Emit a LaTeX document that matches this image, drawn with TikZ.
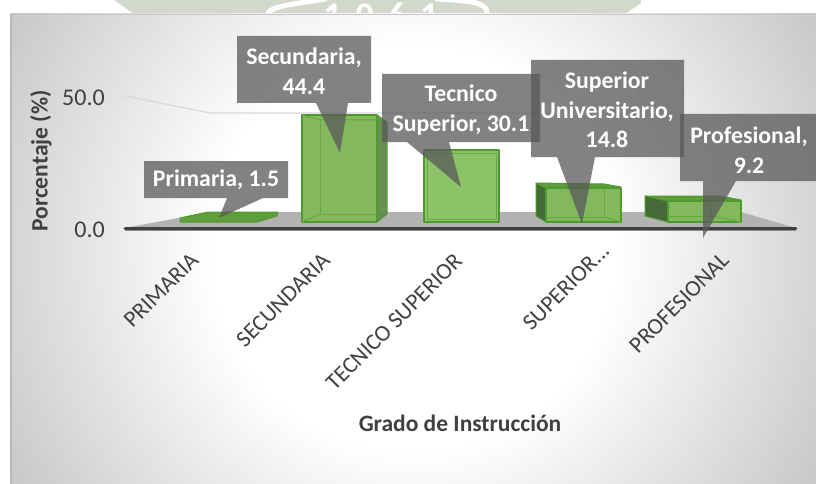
\documentclass[tikz,border=0pt]{standalone}
\usepackage{fontspec}
\setmainfont{Carlito}
\pgfdeclareradialshading{panelshade}{\pgfpoint{0bp}{0bp}}{color(0bp)=(white);color(10.5bp)=(white);color(24.5bp)=(black!22);color(50bp)=(black!22)}
\definecolor{axisdark}{HTML}{404040}
\definecolor{labelgrey}{HTML}{404040}
\definecolor{wm}{HTML}{D2D9CC}
\definecolor{barfront}{HTML}{84B85F}
\definecolor{barbright}{HTML}{8CC268}
\definecolor{baredge}{HTML}{4F9A2E}
\definecolor{bartop}{HTML}{5E9C3C}
\definecolor{barside}{HTML}{5F8B49}
\definecolor{bardark}{HTML}{456A38}
\tikzset{
  x=1pt,y=-1pt,
  calloutshape/.style={fill=black!65,fill opacity=.75,draw=none},
  callouttext/.style={text=white,font=\fontsize{23.8}{29.5}\selectfont\bfseries,align=center,inner sep=0pt},
  catlabel/.style={text=labelgrey,font=\fontsize{23}{25}\selectfont,rotate=45,inner sep=0pt},
  ticklabel/.style={text=labelgrey,font=\fontsize{24}{26}\selectfont,anchor=east,inner sep=0pt},
  axistitle/.style={text=labelgrey,font=\fontsize{23.5}{26}\selectfont\bfseries,inner sep=0pt},
  front/.style={fill=barfront,draw=baredge,line width=1.4pt,line join=round},
  topface/.style={fill=bartop,draw=baredge,line width=1pt,line join=round},
  sideface/.style={fill=barside,draw=baredge,line width=1pt,line join=round},
  darkface/.style={fill=bardark,draw=baredge,line width=1pt,line join=round},
  innerline/.style={draw=baredge!55!barfront,line width=1pt},
}
\begin{document}
\begin{tikzpicture}
\useasboundingbox (0,0) rectangle (816,484);
\fill[white] (0,0) rectangle (816,484);
% watermark
\begin{scope}
\clip (0,0) rectangle (816,14);
\fill[wm] (114,0) -- (134,14) -- (625,14) -- (641,3) -- (641,0) -- cycle;
\draw[white,line width=5pt,line cap=round] (268,13) .. controls (272,6) and (295,4) .. (325,-1);
\draw[white,line width=5pt,line cap=round] (437,-1) .. controls (470,1) and (487,2) .. (487,13);
\node[text=white,font=\fontsize{36}{38}\selectfont\bfseries,anchor=center,inner sep=0pt] (wmyear) at (381,15) {1\hspace{14pt}0\hspace{14pt}6\hspace{14pt}1};
\end{scope}
% panel
\begin{scope}
\clip (10,14) rectangle (816,484);
\shade[shading=panelshade] (-67,-232) rectangle (893,728);
\end{scope}
\draw[black!22,line width=.8pt] (10,14.5) -- (816,14.5);
\fill[black!28] (10,14) rectangle (11.5,484);
% wall and floor
\draw[black!15,line width=1.2pt] (125,96) -- (210,113) -- (540,113);
\fill[black!30] (125,228) -- (210,212) -- (741,212) -- (796,228) -- cycle;
\draw[black!45,line width=1pt] (125,230) -- (796,230);
\draw[axisdark,line width=2.6pt,line cap=round] (125,228.5) -- (796,228.5);
% Primaria bar
\fill[topface] (180,218) -- (208,212) -- (278,212) -- (277,216) -- (257,222) -- (180,222) -- cycle;
\draw[innerline] (180,218) -- (257,218);
% Secundaria bar
\draw[front] (302,115) rectangle (377,222);
\draw[sideface,fill opacity=.95] (377,115) -- (387,122) -- (387,214) -- (377,222) -- cycle;
\draw[innerline] (302,115) -- (320,120) -- (377,120);
\draw[innerline] (320,120) -- (320,214);
\draw[innerline] (320,214) -- (302,222);
\draw[innerline] (320,214) -- (377,214);
% Tecnico bar
\draw[front,fill=barbright] (424,150) rectangle (499,222);
\draw[innerline] (427,153) rectangle (496,219);
% Superior bar
\draw[darkface] (536,183) -- (546,188) -- (546,222) -- (536,216) -- cycle;
\draw[topface] (536,183) -- (604,184) -- (621,187) -- (546,188) -- cycle;
\draw[front] (546,188) rectangle (621,222);
\draw[innerline] (604,188) -- (604,217) -- (546,217);
\draw[innerline] (604,217) -- (621,222);
% Profesional bar
\draw[darkface] (645,196) -- (668,201) -- (668,222) -- (645,216) -- cycle;
\draw[topface] (645,196) -- (720,196) -- (741,200) -- (668,201) -- cycle;
\draw[front] (668,201) rectangle (741,222);
\draw[innerline] (711,201) -- (711,216) -- (668,216);
\draw[innerline] (711,216) -- (741,222);
% callouts
\fill[calloutshape] (144,161) -- (288,161) -- (288,198) -- (263,198) -- (219,218) -- (227,198) -- (144,198) -- cycle;
\node[callouttext] (lprim) at (216,180) {Primaria, 1.5};
\fill[calloutshape] (237,36) -- (371,36) -- (371,103) -- (348,103) -- (340,153) -- (316,103) -- (237,103) -- cycle;
\node[callouttext] (lsec) at (304,71) {Secundaria,\\44.4};
\fill[calloutshape] (382,74) -- (540,74) -- (540,142) -- (449,142) -- (461,187) -- (407,142) -- (382,142) -- cycle;
\node[callouttext] (ltec) at (461,110) {Tecnico\\Superior, 30.1};
\fill[calloutshape] (531,60) -- (684,60) -- (684,157) -- (595,157) -- (582,224) -- (557,157) -- (531,157) -- cycle;
\node[callouttext] (lsup) at (607,110) {Superior\\Universitario,\\14.8};
\fill[calloutshape] (680,114) -- (816,114) -- (816,181) -- (736,181) -- (703,238) -- (703,181) -- (680,181) -- cycle;
\node[callouttext] (lpro) at (749,150) {Profesional,\\9.2};
% axes text
\node[ticklabel] (t50) at (105,98) {50.0};
\node[ticklabel] (t0) at (105,230) {0.0};
\node[axistitle,rotate=90] (ytitle) at (41,161) {Porcentaje (\%)};
\node[axistitle] (xtitle) at (460,423) {Grado de Instrucción};
\node[catlabel] (c1) at (161,290) {PRIMARIA};
\node[catlabel] (c2) at (283,300) {SECUNDARIA};
\node[catlabel] (c3) at (394,322) {TECNICO SUPERIOR};
\node[catlabel] (c4) at (566,287) {SUPERIOR...};
\node[catlabel] (c5) at (679,303) {PROFESIONAL};
\end{tikzpicture}
\end{document}
